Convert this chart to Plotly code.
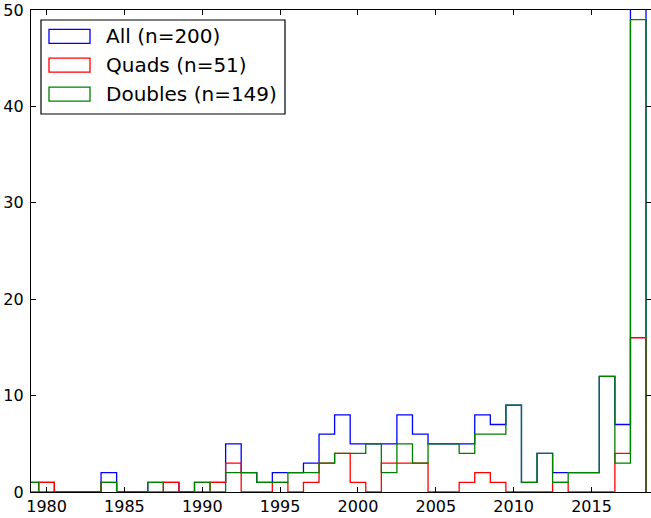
import plotly.graph_objects as go

# Yearly counts (one bin per year, bins centred on the year)
years = list(range(1979, 2019))
all_counts = [1, 1, 0, 0, 0, 2, 0, 0, 1, 1, 0, 1, 1, 5, 2, 1, 2, 2, 3, 6,
              8, 5, 5, 5, 8, 6, 5, 5, 5, 8, 7, 9, 1, 4, 2, 2, 2, 12, 7, 65]
quad_counts = [0, 1, 0, 0, 0, 1, 0, 0, 0, 1, 0, 0, 1, 3, 0, 0, 1, 0, 1, 3,
               4, 1, 0, 3, 3, 3, 0, 0, 1, 2, 1, 0, 0, 0, 1, 0, 0, 0, 4, 16]
double_counts = [1, 0, 0, 0, 0, 1, 0, 0, 1, 0, 0, 1, 0, 2, 2, 1, 1, 2, 2, 3,
                 4, 4, 5, 2, 5, 3, 5, 5, 4, 6, 6, 9, 1, 4, 1, 2, 2, 12, 3, 49]
series_names = ["All (n=200)", "Quads (n=51)", "Doubles (n=149)"]
x_ticks = [1980, 1985, 1990, 1995, 2000, 2005, 2010, 2015]
y_ticks = [0, 10, 20, 30, 40, 50]

colors = ["#0000ff", "#ff0000", "#008000"]
FONT = "DejaVu Sans"

# figure geometry (pixels)
W, H = 651, 518
L, R, T, B = 31, 0, 10, 26
plot_w = W - L - R
plot_h = H - T - B


def step_path(counts):
    """Outline of a step histogram: up from the baseline, across the bin tops, back down."""
    edges = [y - 0.5 for y in years] + [years[-1] + 0.5]
    xs = [edges[0]] + edges[:-1] + [edges[-1]]
    ys = [0] + list(counts) + [0]
    return xs, ys


fig = go.Figure()
for counts, name, col in zip([all_counts, quad_counts, double_counts], series_names, colors):
    xs, ys = step_path(counts)
    fig.add_trace(go.Scatter(x=xs, y=ys, mode="lines", name=name,
                             line=dict(color=col, width=1.3, shape="hv"),
                             showlegend=False, hoverinfo="skip"))


def px_x(p):
    return (p - L) / plot_w


def px_y(p):
    return 1 - (p - T) / plot_h


# legend box with outlined patches
shapes = [dict(type="rect", xref="paper", yref="paper",
               x0=px_x(41), x1=px_x(285), y0=px_y(114), y1=px_y(20),
               line=dict(color="black", width=1.2), fillcolor="white", layer="above")]
annotations = []
row_centres = [36.3, 65.2, 94.1]
for name, col, yc in zip(series_names, colors, row_centres):
    shapes.append(dict(type="rect", xref="paper", yref="paper",
                       x0=px_x(49), x1=px_x(90), y0=px_y(yc + 7), y1=px_y(yc - 7),
                       line=dict(color=col, width=1.3), fillcolor="rgba(0,0,0,0)",
                       layer="above"))
    annotations.append(dict(text=name, xref="paper", yref="paper",
                            x=px_x(104), y=px_y(yc), xanchor="left", yanchor="middle",
                            showarrow=False, font=dict(family=FONT, size=20, color="black")))

axis_common = dict(showline=True, linecolor="black", linewidth=1.3, mirror="ticks",
                   ticks="inside", ticklen=5, tickwidth=1, tickcolor="black",
                   showgrid=False, zeroline=False,
                   tickfont=dict(family=FONT, size=16, color="black"))

fig.update_layout(
    width=W, height=H,
    margin=dict(l=L, r=R, t=T, b=B, pad=0),
    paper_bgcolor="white", plot_bgcolor="white",
    xaxis=dict(range=[1979, 1979 + plot_w / 15.57], tickvals=x_ticks, **axis_common),
    yaxis=dict(range=[0, 50], tickvals=y_ticks, ticklabelstandoff=3, **axis_common),
    shapes=shapes, annotations=annotations,
    showlegend=False,
)

fig.write_html("out.html")
